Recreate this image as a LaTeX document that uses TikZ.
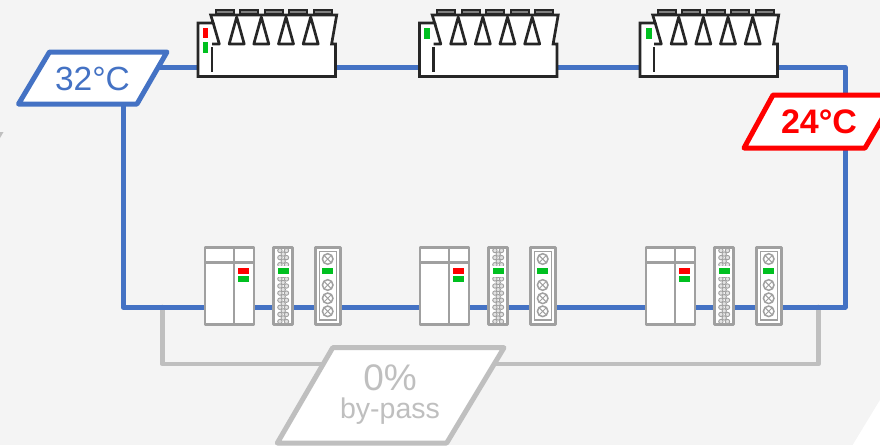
\documentclass[tikz,border=0pt]{standalone}
\usepackage{fontspec}
\setmainfont{Liberation Sans}
\definecolor{pageback}{HTML}{F4F4F4}
\definecolor{pipeblue}{HTML}{4472C4}
\definecolor{bypassgrey}{HTML}{BFBFBF}
\definecolor{unitgrey}{HTML}{A0A0A0}
\definecolor{chillerdark}{HTML}{262626}
\definecolor{ledgreen}{HTML}{00C020}
\definecolor{ledred}{HTML}{FF0000}
\tikzset{
  x=1pt,y=-1pt,
  pipe/.style={draw=pipeblue,line width=5pt,line join=round,line cap=round},
  bypipe/.style={draw=bypassgrey,line width=4.6pt,line join=round,line cap=round},
  tag/.style={fill=white,line width=5pt,line join=round},
  tagtext/.style={inner sep=0pt,anchor=base},
  chline/.style={draw=chillerdark,line width=2.7pt,line join=miter},
  unitline/.style={draw=unitgrey,line width=2.6pt,line join=round},
  dotmark/.style={draw=unitgrey,fill=white!70!unitgrey,line width=.9pt},
  fanmark/.style={draw=unitgrey,fill=white,line width=1.5pt},
  pics/chiller/.style={code={
    \draw[chline,fill=white] (198,23) -- (213.2,23) -- (210.7,15) -- (336.7,15) -- (331.6,44) -- (335.5,44) -- (335.5,76.5) -- (198,76.5) -- cycle;
    \draw[chline,line join=round] (213.2,23) -- (219.3,44) -- (212,44);
    \draw[chline] (212,47) -- (212,72);
    \foreach \fx in {215.7,240,264.7,289,313.7}{
      \draw[draw=chillerdark,fill=gray,line width=2pt] (\fx,10) rectangle (\fx+18,14);
    }
    \foreach \tx in {236.7,261.3,286,310.7}{
      \draw[chline,line join=round] (\tx,17) -- (\tx+7.5,44) -- (\tx-7.5,44) -- cycle;
    }
  }},
  pics/cabinet/.style={code={
    \draw[unitline,fill=white] (205,247.3) rectangle (254,324.3);
    \draw[unitline] (234,247.3) -- (234,324.3) (205,262.3) -- (254,262.3);
    \fill[ledred] (237.7,268.3) rectangle (249,274);
    \fill[ledgreen] (237.7,276) rectangle (249,281.7);
  }},
  pics/dotpanel/.style={code={
    \draw[unitline,fill=white] (273.7,247.3) rectangle (292.7,324.3);
    \foreach \rn in {0,...,20}{
      \pgfmathsetmacro{\ry}{250.5+3.55*\rn}
      \pgfmathparse{int(mod(\rn,2))}
      \ifnum\pgfmathresult=0
        \draw[dotmark] (279.9,\ry) circle (2.2);
        \draw[dotmark] (286.5,\ry) circle (2.2);
      \else
        \draw[dotmark] (283.2,\ry) circle (2.2);
      \fi
    }
    \fill[white] (275.5,266) rectangle (291,277);
    \fill[ledgreen] (277.7,268.3) rectangle (289,274.3);
  }},
  pics/fanpanel/.style={code={
    \draw[unitline,fill=white] (315.3,247.3) rectangle (340.3,324.3);
    \draw[draw=unitgrey,line width=1.6pt] (319.3,251.5) rectangle (336.5,320);
    \foreach \cy in {259,285,298.3,311.3}{
      \draw[fanmark] (327.7,\cy) circle (5.3);
      \draw[draw=unitgrey,line width=1pt] (323.95,\cy-3.75) -- (331.45,\cy+3.75) (323.95,\cy+3.75) -- (331.45,\cy-3.75);
    }
    \fill[ledgreen] (322.3,268.3) rectangle (333,274.3);
  }}
}
\begin{document}
\begin{tikzpicture}
\path[clip] (0,0) rectangle (880,445);
\fill[pageback] (0,0) rectangle (880,445);
\fill[white] (880,400) -- (852.7,445) -- (880,445) -- cycle;
\fill[bypassgrey] (0,132) -- (3.5,132) -- (0,138) -- cycle;
% pipe corners
\coordinate (bluestart) at (160,67);
\coordinate (bluetr) at (845,67);
\coordinate (bluebr) at (845,307);
\coordinate (bluebl) at (123,307);
\coordinate (blueend) at (123,104);
\coordinate (bysl) at (162.3,307);
\coordinate (bybl) at (162.3,364);
\coordinate (bybr) at (818.3,364);
\coordinate (bysr) at (818.3,307);
% pipes
\draw[bypipe] (bysl) -- (bybl) -- (bybr) -- (bysr);
\draw[pipe] (bluestart) -- (bluetr) -- (bluebr) -- (bluebl) -- (blueend);
% chillers
\pic at (0,0) {chiller};
\pic at (221.5,0) {chiller};
\pic at (442,0) {chiller};
\fill[ledred] (202.5,27.7) rectangle (208,38.3);
\fill[ledgreen] (202.5,41.7) rectangle (208,52.7);
\fill[ledgreen] (424,27.7) rectangle (430,38.5);
\fill[ledgreen] (645.5,27.7) rectangle (651.5,38.5);
% units
\foreach \gx in {0,215,441}{
  \pic at (\gx,0) {cabinet};
  \pic at (\gx,0) {dotpanel};
  \pic at (\gx,0) {fanpanel};
}
% tags
\draw[tag,draw=pipeblue] (49.5,52) -- (167,52) -- (137,104) -- (18.5,104) -- cycle;
\node[tagtext,text=pipeblue,font=\fontsize{33.5}{36}\selectfont] (temphot) at (92.5,90) {32°C};
\draw[tag,draw=ledred] (773,95) -- (896,95) -- (865,148) -- (744,148) -- cycle;
\node[tagtext,text=ledred,font=\fontsize{34}{36}\selectfont\bfseries] (tempcold) at (819,133) {24°C};
\draw[tag,draw=bypassgrey] (332.7,347.7) -- (504,347.7) -- (446.7,443) -- (277.3,443) -- cycle;
\node[tagtext,text=bypassgrey,font=\fontsize{37}{40}\selectfont] (bypct) at (390,390) {0\%};
\node[tagtext,text=bypassgrey,font=\fontsize{28.5}{30}\selectfont] (bylabel) at (390,418) {by-pass};
\end{tikzpicture}
\end{document}
